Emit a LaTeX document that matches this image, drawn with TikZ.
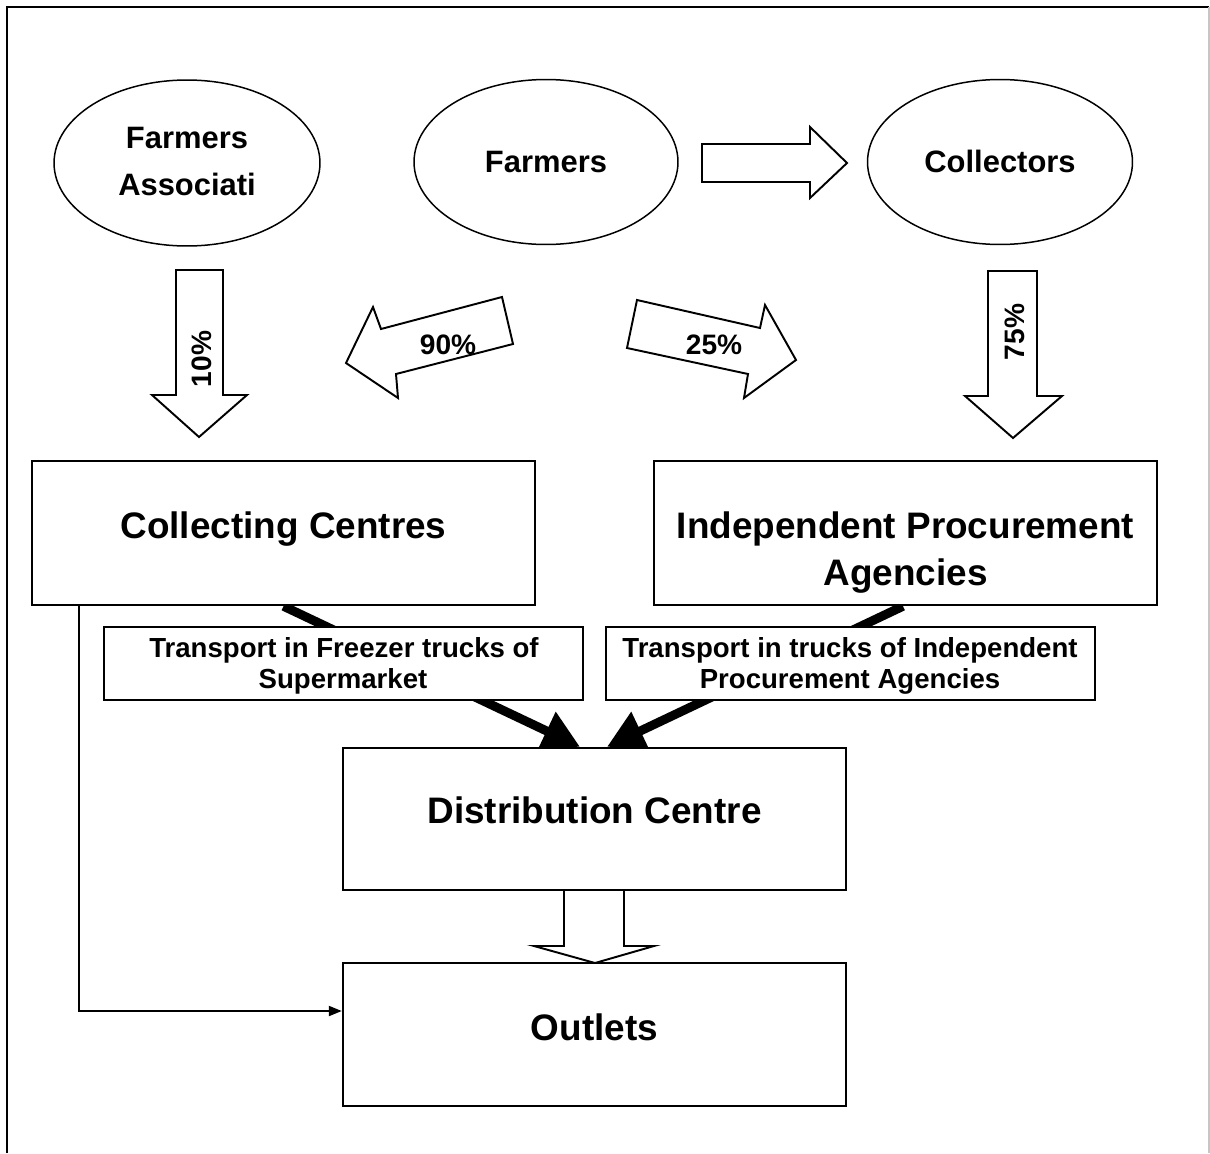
\documentclass[tikz,border=0pt]{standalone}
\usepackage{fontspec}
\setmainfont{Liberation Sans}
\usetikzlibrary{shapes.geometric,arrows.meta,calc}
\pgfdeclarelayer{back}
\pgfsetlayers{back,main}
\begin{document}
\begin{tikzpicture}[x=0.02cm,y=-0.02cm,
  oval/.style={ellipse, draw, line width=0.85pt, fill=white, inner sep=0pt,
    minimum width=5.3cm, minimum height=3.3cm},
  bigbox/.style={rectangle, draw, line width=1.4pt, fill=white, inner sep=0pt,
    minimum width=10.06cm, minimum height=2.88cm},
  truckbox/.style={rectangle, draw, line width=1.3pt, fill=white, inner sep=0pt,
    minimum height=1.46cm},
  blockarrow/.style={draw, line width=1.1pt, fill=white, line join=miter},
  flow/.style={line width=0.18cm, -{Triangle[length=0.74cm,width=0.8cm]}},
  bigtxt/.style={font=\bfseries\fontsize{21pt}{25pt}\selectfont, anchor=base, inner sep=0pt},
  ovaltxt/.style={font=\bfseries\fontsize{17.6pt}{21pt}\selectfont, anchor=base, inner sep=0pt},
  smalltxt/.style={font=\bfseries\fontsize{15.7pt}{19pt}\selectfont, anchor=base, inner sep=0pt},
  pcttxt/.style={font=\bfseries\fontsize{16pt}{19pt}\selectfont, inner sep=0pt},
]
\useasboundingbox (0,0) rectangle (1210,1153);

% frame
\draw[line width=1.6pt] (7,1153) -- (7,7) -- (1209,7);
\draw[gray!45, line width=0.9pt] (1209,7) -- (1209,1153);

% sources
\node[oval, minimum width=5.32cm, minimum height=3.32cm] (fa) at (187,163) {};
\node[ovaltxt] (faT1) at (187,148) {Farmers};
\node[ovaltxt] (faT2) at (187,195) {Associati};
\node[oval, minimum width=5.28cm] (fm) at (546,162) {};
\node[ovaltxt] (fmT) at (546,172) {Farmers};
\node[oval] (co) at (1000,162) {};
\node[ovaltxt] (coT) at (1000,172) {Collectors};

% block arrows
\draw[blockarrow] (702,144) -- (810,144) -- (810,127) -- (847,163) -- (810,198) -- (810,182) -- (702,182) -- cycle;
\draw[blockarrow] (176,270) -- (223,270) -- (223,395) -- (247,395) -- (199,437) -- (152,395) -- (176,395) -- cycle;
\draw[blockarrow] (988,271) -- (1037,271) -- (1037,396) -- (1062,396) -- (1013,438) -- (965,396) -- (988,396) -- cycle;
\draw[blockarrow] (502,297) -- (381,329) -- (373,307) -- (346,363) -- (398,398) -- (396,374) -- (513,344) -- cycle;
\draw[blockarrow] (637,300) -- (760,328) -- (765,305) -- (796,360) -- (744,398) -- (748,374) -- (627,348) -- cycle;
\node[pcttxt, rotate=90] (p10) at (202,359) {10\%};
\node[pcttxt, rotate=90] (p75) at (1015,332) {75\%};
\node[pcttxt] (p90) at (448,345) {90\%};
\node[pcttxt] (p25) at (714,345) {25\%};

% centres
\node[bigbox] (cc) at (283.5,533) {};
\node[bigtxt] (ccT) at (283.5,538) {Collecting Centres};
\node[bigbox] (ipa) at (905.5,533) {};
\node[bigtxt] (ipaT1) at (905.5,538) {Independent Procurement};
\node[bigtxt] (ipaT2) at (905.5,585) {Agencies};
\node[bigbox, minimum height=2.84cm] (dc) at (594.5,819) {};
\node[bigtxt] (dcT) at (594.5,823) {Distribution Centre};
\node[bigbox, minimum height=2.86cm] (out) at (594.5,1034.5) {};
\node[bigtxt] (outT) at (594.5,1040) {Outlets};

% transport flows
\begin{pgfonlayer}{back}
\draw[flow] (cc.south) -- ($(dc.north)+(-14.5,0)$);
\draw[flow] ($(ipa.south)+(-2.5,0)$) -- ($(dc.north)+(12.5,0)$);
\end{pgfonlayer}
\node[truckbox, minimum width=9.58cm] (tl) at (343.5,663.5) {};
\node[smalltxt] (tlT1) at (344,657) {Transport in Freezer trucks of};
\node[smalltxt] (tlT2) at (343,688) {Supermarket};
\node[truckbox, minimum width=9.78cm] (tr) at (850.5,663.5) {};
\node[smalltxt] (trT1) at (850,657) {Transport in trucks of Independent};
\node[smalltxt] (trT2) at (850,688) {Procurement Agencies};

% direct supply
\draw[line width=1.1pt, -{Triangle[length=0.26cm,width=0.2cm]}]
  ($(cc.south west)+(48,0)$) |- ($(out.west)+(0,-23.5)$);
\draw[blockarrow] (564,890) -- (624,890) -- (624,946) -- (654,946) -- (595,963) -- (534,946) -- (564,946) -- cycle;
\end{tikzpicture}
\end{document}
